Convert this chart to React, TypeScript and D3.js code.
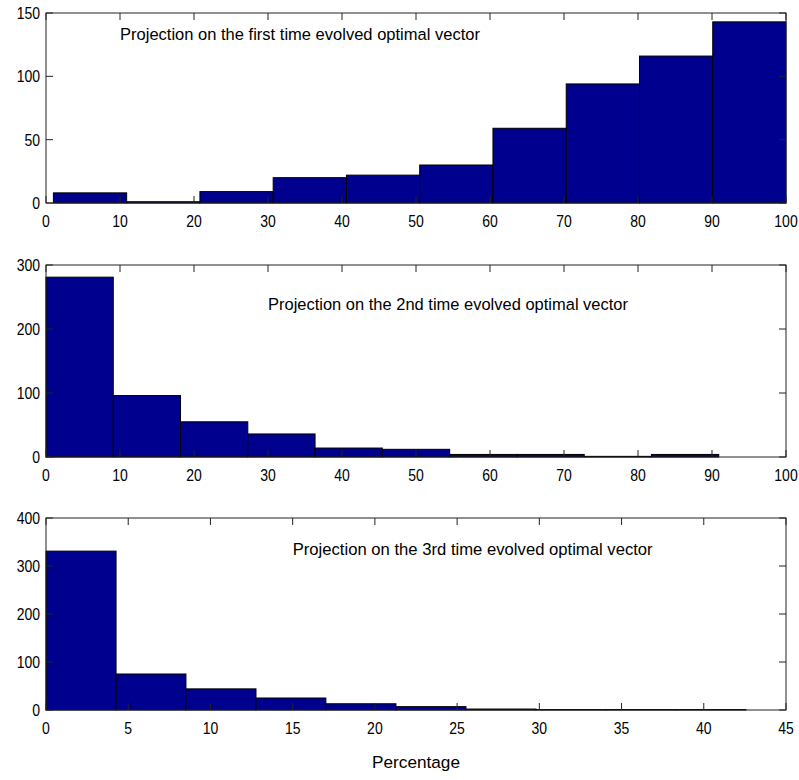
import React from "react";
import * as d3 from "d3";

// ---- data ----
const p1Edges = [1, 10.9, 20.8, 30.7, 40.6, 50.5, 60.4, 70.3, 80.2, 90.1, 100];
const p1Counts = [8, 1, 9, 20, 22, 30, 59, 94, 116, 143];
const p1XTicks = [0, 10, 20, 30, 40, 50, 60, 70, 80, 90, 100];
const p1YTicks = [0, 50, 100, 150];

const p2Edges = [0, 9.09, 18.18, 27.27, 36.36, 45.45, 54.55, 63.64, 72.73, 81.82, 90.91, 100];
const p2Counts = [281, 96, 55, 36, 14, 12, 4, 4, 1, 4, 0];
const p2XTicks = [0, 10, 20, 30, 40, 50, 60, 70, 80, 90, 100];
const p2YTicks = [0, 100, 200, 300];

const p3Edges = [0, 4.26, 8.51, 12.77, 17.02, 21.28, 25.54, 29.79, 34.05, 38.3, 42.56];
const p3Counts = [331, 75, 44, 25, 13, 7, 2, 1, 1, 1];
const p3XTicks = [0, 5, 10, 15, 20, 25, 30, 35, 40, 45];
const p3YTicks = [0, 100, 200, 300, 400];

const titles = [
  "Projection on the first time evolved optimal vector",
  "Projection on the 2nd time evolved optimal vector",
  "Projection on the 3rd time evolved optimal vector",
];
const titlePos = [
  [10, 129],
  [30, 230],
  [15, 322],
];
const xLabel = "Percentage";

const W = 799;
const H = 780;
const LEFT = 46;
const RIGHT = 786;
const FONT = "'Liberation Sans', Arial, Helvetica, sans-serif";
const BAR = "#00008f";
const TICK = 7;

type PanelProps = {
  top: number;
  bottom: number;
  edges: number[];
  counts: number[];
  xTicks: number[];
  yTicks: number[];
  title: string;
  tpos: number[];
};

function Label(props: {
  x: number;
  y: number;
  anchor?: string;
  size?: number;
  sy?: number;
  len?: number;
  children: React.ReactNode;
}) {
  const { x, y, anchor = "start", size = 14, sy = 1.2, len } = props;
  return (
    <text
      transform={`translate(${x},${y}) scale(1,${sy})`}
      textAnchor={anchor}
      fontFamily={FONT}
      fontSize={size}
      fill="#000"
      {...(len ? { textLength: len, lengthAdjust: "spacingAndGlyphs" } : {})}
    >
      {props.children}
    </text>
  );
}

function Panel(p: PanelProps) {
  const xDom = [p.xTicks[0], p.xTicks[p.xTicks.length - 1]];
  const yDom = [p.yTicks[0], p.yTicks[p.yTicks.length - 1]];
  const x = d3.scaleLinear().domain(xDom).range([LEFT, RIGHT]);
  const y = d3.scaleLinear().domain(yDom).range([p.bottom, p.top]);
  const bars = p.counts.map((c, i) => ({ x0: p.edges[i], x1: p.edges[i + 1], c }));
  return (
    <g>
      {bars.map((b, i) => (
        <rect
          key={i}
          x={x(b.x0)}
          y={y(b.c)}
          width={x(b.x1) - x(b.x0)}
          height={Math.max(0, y(0) - y(b.c))}
          fill={BAR}
          stroke="#000"
          strokeWidth={1}
        />
      ))}
      {/* frame */}
      <rect
        x={LEFT}
        y={p.top}
        width={RIGHT - LEFT}
        height={p.bottom - p.top}
        fill="none"
        stroke="#222"
        strokeWidth={1}
      />
      {/* x ticks */}
      {p.xTicks.map((t, i) => (
        <g key={"xt" + i}>
          <line x1={x(t)} x2={x(t)} y1={p.bottom} y2={p.bottom - TICK} stroke="#222" />
          <line x1={x(t)} x2={x(t)} y1={p.top} y2={p.top + TICK} stroke="#222" />
          <Label x={x(t)} y={p.bottom + 24} anchor="middle">
            {String(t)}
          </Label>
        </g>
      ))}
      {/* y ticks */}
      {p.yTicks.map((t, i) => (
        <g key={"yt" + i}>
          <line x1={LEFT} x2={LEFT + TICK} y1={y(t)} y2={y(t)} stroke="#222" />
          <line x1={RIGHT} x2={RIGHT - TICK} y1={y(t)} y2={y(t)} stroke="#222" />
          <Label x={LEFT - 6} y={y(t) + 6} anchor="end">
            {String(t)}
          </Label>
        </g>
      ))}
      <Label x={x(p.tpos[0])} y={y(p.tpos[1])} size={15} sy={1.15} len={360}>
        {p.title}
      </Label>
    </g>
  );
}

export default function App() {
  return (
    <svg
      width={W}
      height={H}
      style={{ position: "absolute", left: 0, top: 0, background: "#fff" }}
    >
      <rect x={0} y={0} width={W} height={H} fill="#fff" />
      <Panel
        top={13}
        bottom={203}
        edges={p1Edges}
        counts={p1Counts}
        xTicks={p1XTicks}
        yTicks={p1YTicks}
        title={titles[0]}
        tpos={titlePos[0]}
      />
      <Panel
        top={265}
        bottom={457}
        edges={p2Edges}
        counts={p2Counts}
        xTicks={p2XTicks}
        yTicks={p2YTicks}
        title={titles[1]}
        tpos={titlePos[1]}
      />
      <Panel
        top={518}
        bottom={710}
        edges={p3Edges}
        counts={p3Counts}
        xTicks={p3XTicks}
        yTicks={p3YTicks}
        title={titles[2]}
        tpos={titlePos[2]}
      />
      <Label x={(LEFT + RIGHT) / 2} y={768} anchor="middle" size={15} sy={1.15} len={88}>
        {xLabel}
      </Label>
    </svg>
  );
}
